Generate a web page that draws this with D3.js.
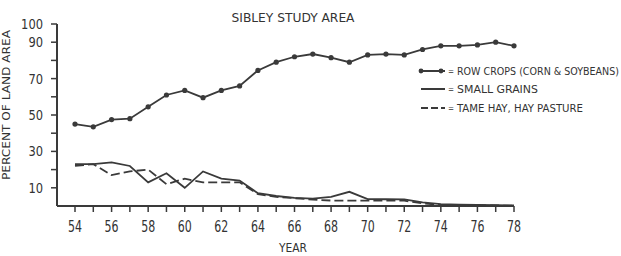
<!DOCTYPE html>
<html>
<head>
<meta charset="utf-8">
<script src="https://cdn.jsdelivr.net/npm/d3@7"></script>
<style>
  body { margin: 0; background: #fff; }
  text { font-family: "DejaVu Sans Condensed", "DejaVu Sans", sans-serif; fill: #333; }
</style>
</head>
<body>
<div id="chart"></div>
<script>
// data
var years = d3.range(54, 79);
var rowCrops = [45, 43.5, 47.5, 48, 54.5, 61, 63.5, 59.5, 63.5, 66, 74.5, 79, 82, 83.5, 81.5, 79, 83, 83.5, 83, 86, 88, 88, 88.5, 90, 88];
var smallGrains = [23, 23, 24, 22, 13, 18, 10, 19, 15, 14, 7, 5.5, 4.5, 4, 5, 7.8, 3.8, 3.7, 3.6, 2, 1, 0.8, 0.6, 0.5, 0.3];
var tameHay = [22, 23, 17, 19, 20, 12, 15, 13, 13, 13, 6.5, 5, 4.3, 3.5, 3, 2.9, 2.9, 2.9, 2.9, 1.5, 0.6, 0.5, 0.4, 0.3, 0.2];
var yTicks = [10, 20, 30, 40, 50, 60, 70, 80, 90, 100];
var yLabels = [100, 90, 70, 50, 30, 10];
var xLabels = [54, 56, 58, 60, 62, 64, 66, 68, 70, 72, 74, 76, 78];
var legendNames = ["ROW CROPS (CORN & SOYBEANS)", "SMALL GRAINS", "TAME HAY, HAY PASTURE"];

var ink = "#3a3a3a";

var svg = d3.select("#chart").append("svg")
    .attr("width", 621)
    .attr("height", 256);

var x = d3.scaleLinear().domain([54, 78]).range([75, 514]);
var y = d3.scaleLinear().domain([0, 100]).range([206, 24]);
var x0 = 57;

// title
svg.append("text")
    .attr("x", 293).attr("y", 22)
    .attr("text-anchor", "middle")
    .attr("font-size", 13)
    .attr("textLength", 123).attr("lengthAdjust", "spacingAndGlyphs")
    .text("SIBLEY STUDY AREA");

// y axis
svg.append("line")
    .attr("x1", x0).attr("x2", x0)
    .attr("y1", y(100)).attr("y2", y(0))
    .attr("stroke", ink).attr("stroke-width", 2);
svg.selectAll(".ytick").data(yTicks).enter().append("line")
    .attr("class", "ytick")
    .attr("x1", x0 - 6).attr("x2", x0)
    .attr("y1", function(d) { return y(d); })
    .attr("y2", function(d) { return y(d); })
    .attr("stroke", ink).attr("stroke-width", 1.5);
svg.selectAll(".ylab").data(yLabels).enter().append("text")
    .attr("class", "ylab")
    .attr("x", 43)
    .attr("y", function(d) { return y(d) + 5; })
    .attr("text-anchor", "end")
    .attr("font-size", 14)
    .attr("textLength", function(d) { return String(d).length * 7.3; })
    .attr("lengthAdjust", "spacingAndGlyphs")
    .text(function(d) { return d; });

// y title
svg.append("text")
    .attr("transform", "translate(10,105) rotate(-90)")
    .attr("text-anchor", "middle")
    .attr("font-size", 11)
    .attr("textLength", 150).attr("lengthAdjust", "spacingAndGlyphs")
    .text("PERCENT OF LAND AREA");

// x axis
svg.append("line")
    .attr("x1", x0).attr("x2", x(78))
    .attr("y1", y(0)).attr("y2", y(0))
    .attr("stroke", ink).attr("stroke-width", 2);
svg.selectAll(".xtick").data(years).enter().append("line")
    .attr("class", "xtick")
    .attr("x1", function(d) { return x(d); })
    .attr("x2", function(d) { return x(d); })
    .attr("y1", y(0)).attr("y2", y(0) + 6)
    .attr("stroke", ink).attr("stroke-width", 1.5);
svg.selectAll(".xlab").data(xLabels).enter().append("text")
    .attr("class", "xlab")
    .attr("x", function(d) { return x(d); })
    .attr("y", 232)
    .attr("text-anchor", "middle")
    .attr("font-size", 15)
    .attr("textLength", 14)
    .attr("lengthAdjust", "spacingAndGlyphs")
    .text(function(d) { return d; });
svg.append("text")
    .attr("x", 293).attr("y", 252)
    .attr("text-anchor", "middle")
    .attr("font-size", 12)
    .attr("textLength", 28).attr("lengthAdjust", "spacingAndGlyphs")
    .text("YEAR");

// series
var line = d3.line()
    .x(function(d, i) { return x(years[i]); })
    .y(function(d) { return y(d); });

svg.append("path").datum(tameHay)
    .attr("d", line)
    .attr("fill", "none")
    .attr("stroke", ink).attr("stroke-width", 1.8)
    .attr("stroke-dasharray", "9,4");

svg.append("path").datum(smallGrains)
    .attr("d", line)
    .attr("fill", "none")
    .attr("stroke", ink).attr("stroke-width", 1.8);

svg.append("path").datum(rowCrops)
    .attr("d", line)
    .attr("fill", "none")
    .attr("stroke", ink).attr("stroke-width", 1.8);

svg.selectAll(".dot").data(rowCrops).enter().append("circle")
    .attr("class", "dot")
    .attr("cx", function(d, i) { return x(years[i]); })
    .attr("cy", function(d) { return y(d); })
    .attr("r", 2.6)
    .attr("fill", ink);

// legend
var legY = [71, 89, 108];
var legW = [162, 81, 126];
var leg = svg.selectAll(".leg").data(legendNames).enter().append("g")
    .attr("class", "leg")
    .attr("transform", function(d, i) { return "translate(421," + legY[i] + ")"; });

leg.append("line")
    .attr("x1", 0).attr("x2", 24)
    .attr("stroke", ink).attr("stroke-width", 2)
    .attr("stroke-dasharray", function(d, i) { return i === 2 ? "7,3" : null; });
leg.filter(function(d, i) { return i === 0; }).selectAll("circle")
    .data([0, 20]).enter().append("circle")
    .attr("cx", function(d) { return d; })
    .attr("r", 2.4)
    .attr("fill", ink);
leg.append("text")
    .attr("x", 27).attr("y", 3)
    .attr("font-size", 8)
    .text("=");
leg.append("text")
    .attr("x", 36).attr("y", 3.5)
    .attr("font-size", 10)
    .attr("textLength", function(d, i) { return legW[i]; })
    .attr("lengthAdjust", "spacingAndGlyphs")
    .text(function(d) { return d; });
</script>
</body>
</html>
